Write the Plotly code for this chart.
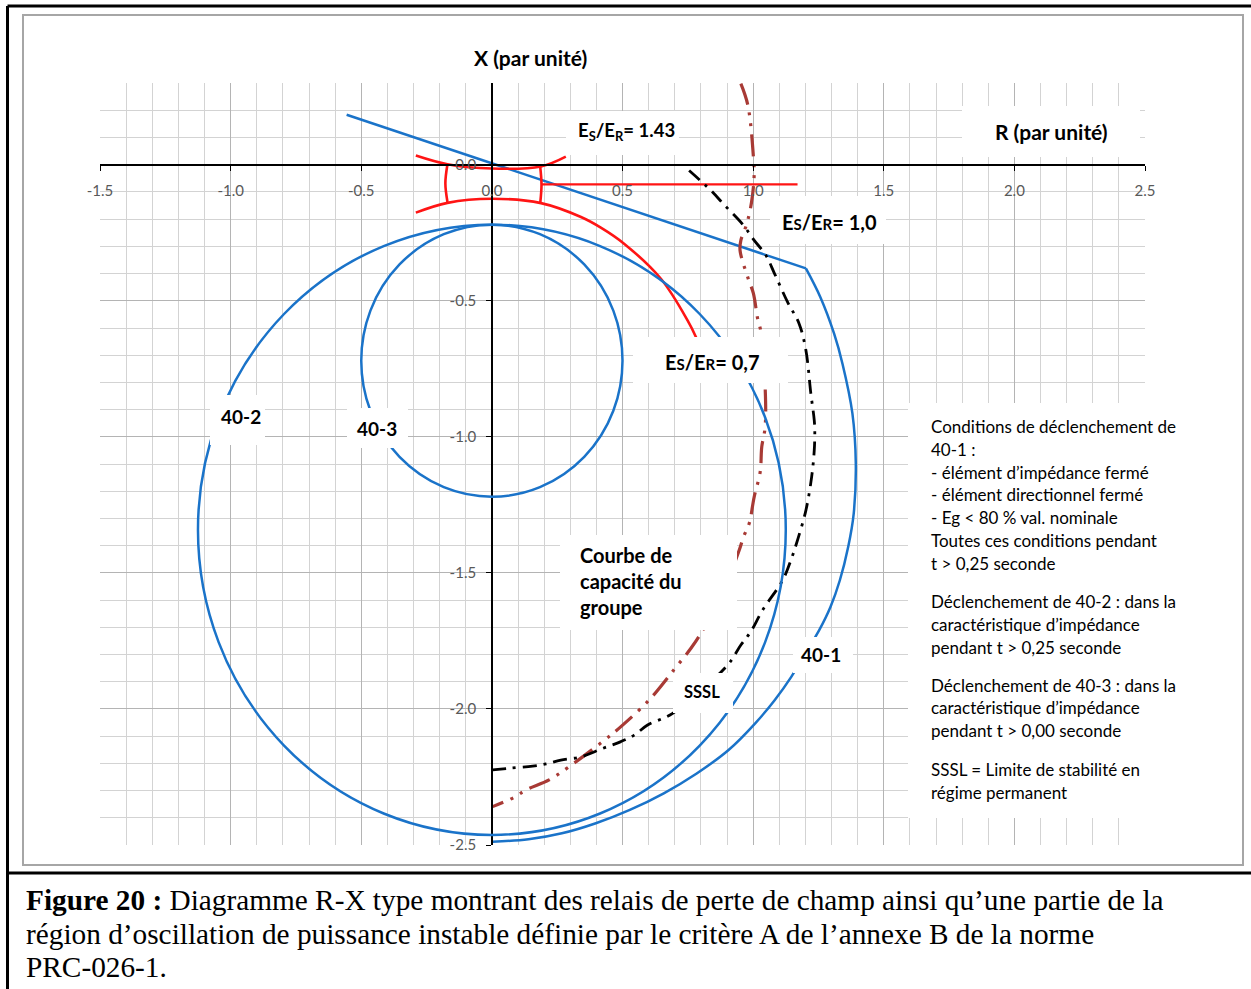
import plotly.graph_objects as go

# ---------------- data ----------------
# 40-1 directional line and impedance arc
R_40_1_line = [-0.556, 1.202]
X_40_1_line = [0.184, -0.381]
R_40_1_arc = [1.202, 1.257, 1.310, 1.342, 1.380, 1.393, 1.385, 1.364, 1.332, 1.296, 1.253,
              1.146, 1.083, 1.008, 0.906, 0.784, 0.658, 0.528, 0.398, 0.268, 0.140, 0.003]
X_40_1_arc = [-0.381, -0.486, -0.621, -0.731, -0.914, -1.098, -1.282, -1.404, -1.527, -1.625, -1.710,
              -1.882, -1.967, -2.053, -2.151, -2.237, -2.310, -2.371, -2.420, -2.457, -2.479, -2.488]

# 40-2 and 40-3 circles (bounding boxes)
R_40_2 = [-1.125, 1.125]
X_40_2 = [-2.463, -0.220]
R_40_3 = [-0.500, 0.500]
X_40_3 = [-1.220, -0.220]

# Es/ER = 1.43 (upper red arc) and Es/ER = 0.7 (lower red arc)
R_red_up = [-0.291, -0.170, 0.000, 0.188, 0.283]
X_red_up = [0.034, 0.002, -0.014, -0.006, 0.030]
R_red_low = [-0.291, -0.170, 0.000, 0.188, 0.341, 0.417, 0.506, 0.647, 0.749, 0.781, 0.800]
X_red_low = [-0.176, -0.140, -0.125, -0.141, -0.192, -0.231, -0.290, -0.419, -0.572, -0.633, -0.680]
R_red_left = [-0.170, -0.178, -0.170]
X_red_left = [0.002, -0.068, -0.137]
R_red_right = [0.185, 0.190, 0.185]
X_red_right = [-0.008, -0.073, -0.141]
R_red_h = [0.190, 1.170]
X_red_h = [-0.072, -0.072]

# Generator capability curve (brown dash-dot-dot)
R_cap = [0.953, 0.980, 1.002, 1.004, 0.994, 0.976, 0.953, 0.950, 0.981, 1.001, 1.017, 1.030,
         1.046, 1.046, 1.033, 1.027, 1.004, 0.985, 0.963, 0.947, 0.880, 0.800, 0.762, 0.700,
         0.602, 0.494, 0.424, 0.296, 0.219, 0.130, 0.085, 0.003]
X_cap = [0.298, 0.218, 0.016, -0.039, -0.137, -0.216, -0.278, -0.315, -0.418, -0.473, -0.564, -0.615,
         -0.817, -0.964, -1.037, -1.129, -1.221, -1.318, -1.368, -1.416, -1.580, -1.722, -1.777, -1.852,
         -1.967, -2.065, -2.120, -2.212, -2.261, -2.298, -2.325, -2.359]

# SSSL (black dash-dot)
R_sssl = [0.755, 0.838, 0.888, 0.960, 1.002, 1.049, 1.081, 1.132, 1.176, 1.202, 1.221, 1.234,
          1.236, 1.234, 1.224, 1.202, 1.172, 1.145, 1.113, 1.036, 0.991, 0.953, 0.902, 0.692,
          0.596, 0.545, 0.494, 0.424, 0.341, 0.264, 0.207, 0.156, 0.066, 0.003]
X_sssl = [-0.021, -0.094, -0.146, -0.219, -0.275, -0.333, -0.398, -0.505, -0.584, -0.682, -0.841, -0.939,
          -0.976, -1.049, -1.147, -1.270, -1.373, -1.452, -1.527, -1.637, -1.716, -1.765, -1.839, -2.016,
          -2.059, -2.096, -2.120, -2.145, -2.176, -2.188, -2.202, -2.210, -2.218, -2.224]

X_RANGE = [-1.5, 2.5]
Y_RANGE = [-2.5, 0.3005]
X_TICKS = [-1.5, -1.0, -0.5, 0.0, 0.5, 1.0, 1.5, 2.0, 2.5]
X_TICK_TEXT = ["-1.5", "-1.0", "-0.5", "0.0", "0.5", "1.0", "1.5", "2.0", "2.5"]
Y_TICKS = [0.0, -0.5, -1.0, -1.5, -2.0, -2.5]
Y_TICK_TEXT = ["0.0", "-0.5", "-1.0", "-1.5", "-2.0", "-2.5"]

cond_p1 = ["Conditions de déclenchement de", "40-1 :", "- élément d’impédance fermé",
           "- élément directionnel fermé", "- Eg &lt; 80 % val. nominale",
           "Toutes ces conditions pendant", "t &gt; 0,25 seconde"]
cond_p2 = ["Déclenchement de 40-2 : dans la", "caractéristique d’impédance", "pendant t &gt; 0,25 seconde"]
cond_p3 = ["Déclenchement de 40-3 : dans la", "caractéristique d’impédance", "pendant t &gt; 0,00 seconde"]
cond_p4 = ["SSSL = Limite de stabilité en", "régime permanent"]
caption_lines = ["<b>Figure 20 :</b> Diagramme R-X type montrant des relais de perte de champ ainsi qu’une partie de la",
                 "région d’oscillation de puissance instable définie par le critère A de l’annexe B de la norme",
                 "PRC-026-1."]

# ---------------- layout geometry (pixels) ----------------
W, H = 1251, 989
PL, PR, PT, PB = 100, 1145, 83, 845


def px(x):
    return (x - PL) / (PR - PL)


def py(y):
    return (PB - y) / (PB - PT)


BLUE = "#1A73C9"
RED = "#FF1414"
BROWN = "#A83A35"
FONT = "Lato, sans-serif"

fig = go.Figure()

fig.add_trace(go.Scatter(x=R_40_1_line, y=X_40_1_line, mode="lines",
                         line=dict(color=BLUE, width=2.5), showlegend=False, hoverinfo="skip"))
fig.add_trace(go.Scatter(x=R_40_1_arc, y=X_40_1_arc, mode="lines", line_shape="spline",
                         line=dict(color=BLUE, width=2.5), showlegend=False, hoverinfo="skip"))
for rr, xx in [(R_red_up, X_red_up), (R_red_low, X_red_low), (R_red_left, X_red_left),
               (R_red_right, X_red_right)]:
    fig.add_trace(go.Scatter(x=rr, y=xx, mode="lines", line_shape="spline",
                             line=dict(color=RED, width=2.6), showlegend=False, hoverinfo="skip"))
fig.add_trace(go.Scatter(x=R_red_h, y=X_red_h, mode="lines",
                         line=dict(color=RED, width=2.4), showlegend=False, hoverinfo="skip"))
fig.add_trace(go.Scatter(x=R_cap, y=X_cap, mode="lines", line_shape="spline",
                         line=dict(color=BROWN, width=3.2, dash="22px,8px,3px,8px,3px,8px"),
                         showlegend=False, hoverinfo="skip"))
fig.add_trace(go.Scatter(x=R_sssl, y=X_sssl, mode="lines", line_shape="spline",
                         line=dict(color="black", width=2.8, dash="14px,7px,3px,7px"),
                         showlegend=False, hoverinfo="skip"))

shapes = []
# relay circles
for rr, xx in [(R_40_2, X_40_2), (R_40_3, X_40_3)]:
    shapes.append(dict(type="circle", xref="x", yref="y", x0=rr[0], x1=rr[1], y0=xx[0], y1=xx[1],
                       line=dict(color=BLUE, width=2.5), layer="above"))

# white label boxes (pixels)
boxes = [(962, 106, 1140, 157), (566, 111, 679, 155), (770, 196, 886, 244), (633, 337, 788, 383),
         (210, 395, 265, 445), (347, 408, 408, 448), (560, 535, 737, 630), (673, 673, 733, 713),
         (793, 637, 853, 673), (908, 403, 1195, 818)]
for x0, y0, x1, y1 in boxes:
    shapes.append(dict(type="rect", xref="paper", yref="paper", x0=px(x0), x1=px(x1), y0=py(y1), y1=py(y0),
                       fillcolor="white", line=dict(width=0), layer="above"))

# frames
shapes.append(dict(type="rect", xref="paper", yref="paper", x0=px(23), x1=px(1243), y0=py(865), y1=py(15),
                   line=dict(color="#A6A6A6", width=2), fillcolor="rgba(0,0,0,0)", layer="above"))
for x0, y0, x1, y1 in [(7.5, 6, 1260, 6), (7.5, 6, 7.5, 1000), (7.5, 873, 1260, 873)]:
    shapes.append(dict(type="line", xref="paper", yref="paper", x0=px(x0), x1=px(x1), y0=py(y0), y1=py(y1),
                       line=dict(color="black", width=3), layer="above"))

ann = []


def label(text, x, y, size=19, xanchor="center", bold=True, color="black", family=FONT):
    ann.append(dict(text=("<b>%s</b>" % text) if bold else text, x=px(x), y=py(y), xref="paper", yref="paper",
                    xanchor=xanchor, yanchor="middle", showarrow=False,
                    font=dict(family=family, size=size, color=color)))


label("X (par unité)", 530, 58, 21)
label("R (par unité)", 1051, 131, 21)
label("E<sub>S</sub>/E<sub>R</sub>= 1.43", 626, 131, 18.5)
small_s = "<span style='font-size:15px'>S</span>"
small_r = "<span style='font-size:15px'>R</span>"
label("E" + small_s + "/E" + small_r + "= 1,0", 829, 222, 20)
label("E" + small_s + "/E" + small_r + "= 0,7", 712, 362, 20)
label("40-2", 241, 416, 19)
label("40-3", 377, 428, 19)
label("40-1", 821, 654, 19)
label("SSSL", 702, 692, 16.5)
for i, t in enumerate(["Courbe de", "capacité du", "groupe"]):
    label(t, 578, 555 + 26 * i, 20, xanchor="left")

for lines, y0 in [(cond_p1, 426.5), (cond_p2, 601.5), (cond_p3, 685), (cond_p4, 769.5)]:
    for i, t in enumerate(lines):
        label(t, 929, y0 + 22.8 * i, 17, xanchor="left", bold=False)

for i, t in enumerate(caption_lines):
    label(t, 24, 900 + 33.7 * i, 29.3, xanchor="left", bold=False, family="Liberation Serif, serif")

axis_common = dict(showgrid=True, gridcolor="#B4B4B4", gridwidth=1, zeroline=False,
                   showline=True, linecolor="black", linewidth=1.5,
                   ticks="outside", ticklen=5, tickcolor="black", tickwidth=1.2,
                   tickmode="array",
                   tickfont=dict(family=FONT, size=15, color="#595959"),
                   minor=dict(dtick=0.1, tick0=0, showgrid=True, gridcolor="#D3D3D3", gridwidth=1, ticks=""),
                   anchor="free", fixedrange=True)

fig.update_layout(
    width=W, height=H, autosize=False,
    margin=dict(l=PL, r=W - PR, t=PT, b=H - PB, pad=0),
    paper_bgcolor="white", plot_bgcolor="white",
    xaxis=dict(range=X_RANGE, position=(0 - Y_RANGE[0]) / (Y_RANGE[1] - Y_RANGE[0]),
               tickvals=X_TICKS, ticktext=X_TICK_TEXT, ticklabelstandoff=7, **axis_common),
    yaxis=dict(range=Y_RANGE, position=(0 - X_RANGE[0]) / (X_RANGE[1] - X_RANGE[0]),
               tickvals=Y_TICKS, ticktext=Y_TICK_TEXT, ticklabelstandoff=7, **axis_common),
    shapes=shapes, annotations=ann, showlegend=False,
)

fig.write_html("out.html", config={"displayModeBar": False},
               post_script="document.body.style.margin='0';document.body.style.overflow='hidden';")
